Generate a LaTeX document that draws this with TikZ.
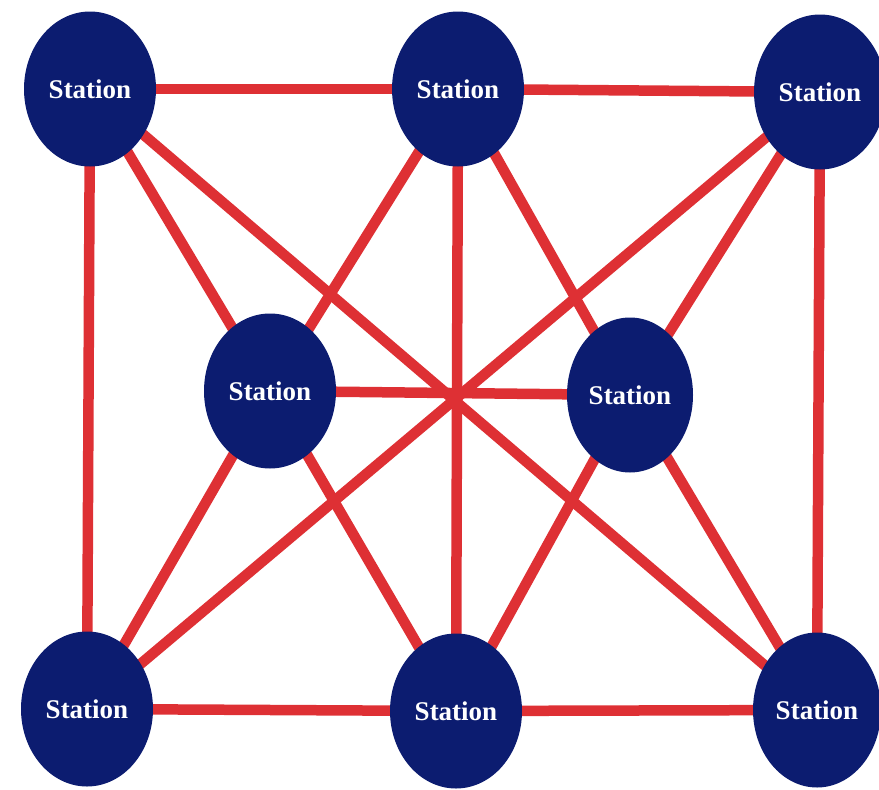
\documentclass[tikz,border=0pt]{standalone}
\usepackage{fontspec}
\setmainfont{Liberation Serif}
\usetikzlibrary{shapes.geometric,backgrounds}
\definecolor{linkred}{RGB}{222,48,52}
\definecolor{stationblue}{RGB}{12,28,112}
\tikzset{
  station/.style={ellipse, fill=stationblue, draw=none, text=white,
    font=\fontsize{27}{27}\selectfont\bfseries, inner sep=0pt,
    minimum width=132, minimum height=155},
  link/.style={draw=linkred, line width=10.5pt}
}
\begin{document}
\begin{tikzpicture}[x=1pt,y=-1pt]
\useasboundingbox (0,0) rectangle (879,790);
\node[station] (TL) at (90,89) {Station};
\node[station] (TM) at (458,89) {Station};
\node[station] (TR) at (820,92) {Station};
\node[station] (ML) at (270,391) {Station};
\node[station, minimum width=126] (MR) at (630,395) {Station};
\node[station] (BL) at (87,709) {Station};
\node[station] (BM) at (456,711) {Station};
\node[station, minimum width=128] (BR) at (817,710) {Station};
\begin{scope}[on background layer]
  \foreach \a/\b in {TL/TM, TM/TR, BL/BM, BM/BR, TL/BL, TR/BR, TM/BM, ML/MR,
                     TL/BR, TR/BL, TL/ML, ML/BM, TM/ML, ML/BL, TM/MR, MR/BR,
                     TR/MR, MR/BM}
    \draw[link] (\a.center) -- (\b.center);
\end{scope}
\end{tikzpicture}
\end{document}
